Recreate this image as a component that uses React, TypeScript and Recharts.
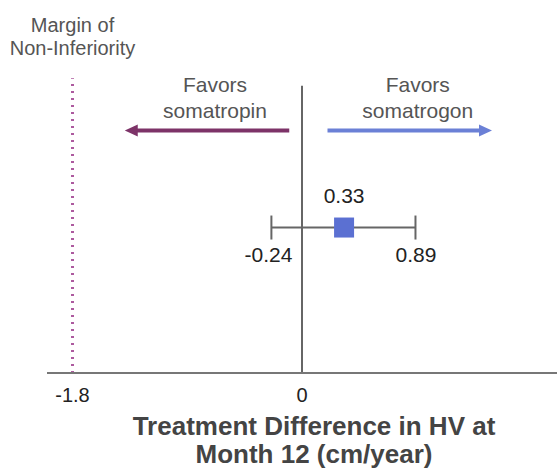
import {
  ComposedChart,
  Scatter,
  ErrorBar,
  XAxis,
  YAxis,
  ReferenceLine,
  ReferenceDot,
} from "recharts";

const font = "'Liberation Sans', Arial, sans-serif";

// estimate and 95% CI
const estimate = [{ x: 0.33, y: 39, err: [0.57, 0.56], label: "0.33" }];
const ciBounds = [
  { x: -0.24, label: "-0.24" },
  { x: 0.89, label: "0.89" },
];
const margin = -1.8;
const xTicks = [-1.8, 0];
const xDomain = [-2, 2];
const yDomain = [0, 100];
const arrows = [
  { from: -0.1, to: -1.39, y: 65, color: "#7d3368", text: ["Favors", "somatropin"] },
  { from: 0.2, to: 1.49, y: 65, color: "#6b80d6", text: ["Favors", "somatrogon"] },
];
const zeroTop = 77;
const marginTop = 79;
const titleLines = ["Treatment Difference in HV at", "Month 12 (cm/year)"];
const marginLabel = ["Margin of", "Non-Inferiority"];

const Square = (props: any) => {
  const { cx, cy } = props;
  return (
    <g>
      <rect x={cx - 10} y={cy - 10} width={20} height={20} fill="#5b70d2" />
      <text x={cx} y={cy - 25} textAnchor="middle" fontSize={21} fill="#222" fontFamily={font}>
        {estimate[0].label}
      </text>
    </g>
  );
};

const Arrow = (color: string, text: string[]) => (props: any) => {
  const { x1, y1, x2 } = props;
  const dir = x2 > x1 ? 1 : -1;
  const mid = (x1 + x2) / 2 + 8;
  return (
    <g>
      <line x1={x1} y1={y1} x2={x2 - dir * 8} y2={y1} stroke={color} strokeWidth={4} />
      <polygon
        points={`${x2},${y1} ${x2 - dir * 13},${y1 - 6} ${x2 - dir * 13},${y1 + 6}`}
        fill={color}
      />
      <text x={mid} y={y1 - 39} textAnchor="middle" fontSize={21} fill="#555" fontFamily={font}>
        {text[0]}
      </text>
      <text x={mid} y={y1 - 13} textAnchor="middle" fontSize={21} fill="#555" fontFamily={font}>
        {text[1]}
      </text>
    </g>
  );
};

const Tick = (props: any) => {
  const { x, y, payload } = props;
  return (
    <text x={x} y={y + 21} textAnchor="middle" fontSize={20} fill="#222" fontFamily={font}>
      {payload.value}
    </text>
  );
};

const Title = (props: any) => {
  const { viewBox } = props;
  const cx = viewBox.x + viewBox.width / 2 + 12;
  return (
    <g>
      {titleLines.map((t, i) => (
        <text
          key={t}
          x={cx}
          y={viewBox.y + 62 + i * 28}
          textAnchor="middle"
          fontSize={26}
          fontWeight="bold"
          fill="#444"
          fontFamily={font}
        >
          {t}
        </text>
      ))}
    </g>
  );
};

const MarginLabel = (props: any) => {
  const { viewBox } = props;
  const x = viewBox.x;
  return (
    <g>
      {marginLabel.map((t, i) => (
        <text key={t} x={x} y={viewBox.y - 46 + i * 23} textAnchor="middle" fontSize={20} fill="#555" fontFamily={font}>
          {t}
        </text>
      ))}
    </g>
  );
};

const CiLabel = (text: string) => (props: any) => {
  const { viewBox } = props;
  const cx = viewBox.x + viewBox.width / 2;
  const cy = viewBox.y + viewBox.height / 2;
  return (
    <text x={cx + 21} y={cy + 34} textAnchor="end" fontSize={21} fill="#222" fontFamily={font}>
      {text}
    </text>
  );
};

export default function App() {
  return (
    <div style={{ position: "absolute", left: 0, top: 0, background: "#fff" }}>
      <ComposedChart width={557} height={470} margin={{ top: 0, right: 0, bottom: 0, left: 47 }}>
        <XAxis
          type="number"
          dataKey="x"
          domain={xDomain}
          ticks={xTicks}
          allowDataOverflow
          height={97}
          tickLine={false}
          axisLine={{ stroke: "#777", strokeWidth: 2 }}
          tick={<Tick />}
          label={<Title />}
        />
        <YAxis type="number" dataKey="y" domain={yDomain} hide />
        <ReferenceLine
          segment={[{ x: margin, y: 0 }, { x: margin, y: marginTop }]}
          stroke="#ad5a9f"
          strokeWidth={3}
          strokeDasharray="2 5"
          label={<MarginLabel />}
        />
        <ReferenceLine
          segment={[{ x: 0, y: 0 }, { x: 0, y: zeroTop }]}
          stroke="#666"
          strokeWidth={2}
        />
        {arrows.map((a) => (
          <ReferenceLine
            key={a.text[1]}
            segment={[{ x: a.from, y: a.y }, { x: a.to, y: a.y }]}
            shape={Arrow(a.color, a.text)}
          />
        ))}
        {ciBounds.map((c) => (
          <ReferenceDot
            key={c.label}
            x={c.x}
            y={estimate[0].y}
            r={0}
            stroke="none"
            label={CiLabel(c.label)}
          />
        ))}
        <Scatter data={estimate} dataKey="y" shape={<Square />} isAnimationActive={false}>
          <ErrorBar dataKey="err" direction="x" width={12} stroke="#666" strokeWidth={2} />
        </Scatter>
      </ComposedChart>
    </div>
  );
}
